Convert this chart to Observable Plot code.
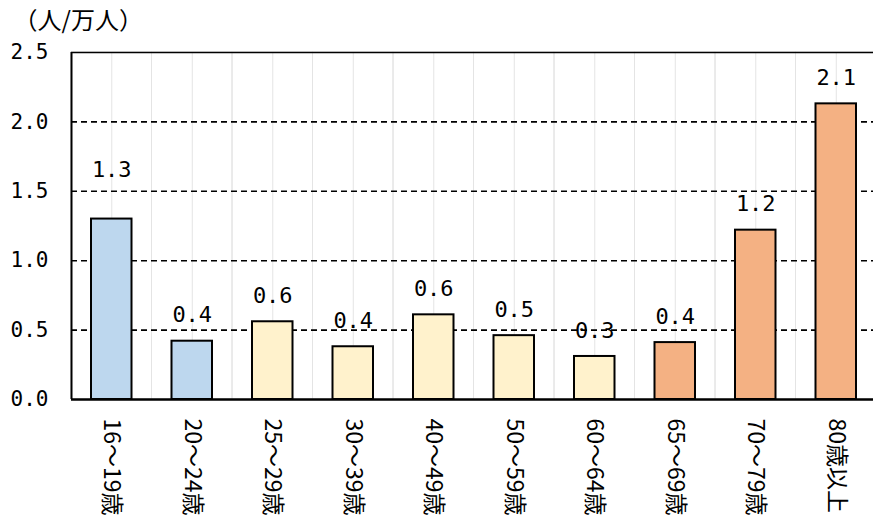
<!DOCTYPE html>
<html>
<head>
<meta charset="utf-8">
<script src="https://cdn.jsdelivr.net/npm/d3@7"></script>
<script src="https://cdn.jsdelivr.net/npm/@observablehq/plot@0.6"></script>
<style>
  html, body { margin: 0; padding: 0; background: #fff; }
  #chart svg { display: block; }
</style>
</head>
<body>
<div id="chart"></div>
<script>
const categories = ["16～19歳","20～24歳","25～29歳","30～39歳","40～49歳","50～59歳","60～64歳","65～69歳","70～79歳","80歳以上"];
const values = [1.30, 0.42, 0.56, 0.38, 0.61, 0.46, 0.31, 0.41, 1.22, 2.13];
const valueLabels = ["1.3","0.4","0.6","0.4","0.6","0.5","0.3","0.4","1.2","2.1"];
const groups = ["a","a","b","b","b","b","b","c","c","c"];
const groupColors = ["#BDD7EE", "#FFF2CC", "#F4B183"];
const yTicks = [0, 0.5, 1.0, 1.5, 2.0, 2.5];
const dashedTicks = [0.5, 1.0, 1.5, 2.0];
const unitLabel = "（人/万人）";

const data = categories.map((c, i) => ({cat: c, value: values[i], label: valueLabels[i], group: groups[i]}));

const numFont = "DejaVu Sans Mono";
const jpFont = "Noto Sans CJK JP";
const liftedLabel = categories[0]; // label raised above the 1.5 gridline

const chart = Plot.plot({
  width: 873,
  height: 524,
  marginLeft: 71,
  marginRight: 0,
  marginTop: 52,
  marginBottom: 125,
  style: {fontFamily: jpFont, background: "#fff"},
  x: {domain: categories, range: [71, 876], padding: 0, round: false, axis: null},
  y: {domain: [0, 2.5], axis: null},
  color: {domain: ["a","b","c"], range: groupColors},
  marks: [
    // light vertical gridlines at band edges and centres
    Plot.barY(data, {x: "cat", y1: 0, y2: 2.5, fill: "none", stroke: "#e4e4e4", strokeWidth: 1, inset: 0}),
    Plot.ruleX(data, {x: "cat", y1: 0, y2: 2.5, stroke: "#e4e4e4", strokeWidth: 1}),
    // dashed horizontal gridlines
    Plot.ruleY(dashedTicks, {stroke: "#000", strokeWidth: 1.6, strokeDasharray: "6,4"}),
    Plot.ruleY([2.5], {stroke: "#000", strokeWidth: 1.6}),
    // bars
    Plot.barY(data, {x: "cat", y: "value", fill: "group", stroke: "#000", strokeWidth: 2, insetLeft: 20, insetRight: 20}),
    // axes lines
    Plot.ruleY([0], {stroke: "#000", strokeWidth: 2.5}),
    Plot.ruleX([categories[0]], {y1: 0, y2: 2.5, dx: -40.25, stroke: "#000", strokeWidth: 2}),
    // y tick labels
    Plot.axisY({ticks: yTicks, tickFormat: d3.format(".1f"), tickSize: 0, tickPadding: 23, label: null, fontSize: 21, fontFamily: numFont, fill: "#000"}),
    // value labels
    Plot.text(data, {filter: d => d.cat !== liftedLabel, x: "cat", y: "value", text: "label", dy: -26, fontSize: 22, fontFamily: numFont, fill: "#000"}),
    Plot.text(data, {filter: d => d.cat === liftedLabel, x: "cat", y: "value", text: "label", dy: -49, fontSize: 22, fontFamily: numFont, fill: "#000"}),
    // x category labels (rotated)
    Plot.text(data, {x: "cat", y: 0, text: "cat", rotate: 90, textAnchor: "start", lineAnchor: "middle", dy: 19, fontSize: 23, fontFamily: jpFont, fill: "#000"}),
    // unit label
    Plot.text([unitLabel], {frameAnchor: "top-left", text: d => d, textAnchor: "start", lineAnchor: "middle", dx: -58, dy: -31, fontSize: 24, fontFamily: jpFont, fill: "#000"})
  ]
});
document.getElementById("chart").appendChild(chart);
</script>
</body>
</html>
